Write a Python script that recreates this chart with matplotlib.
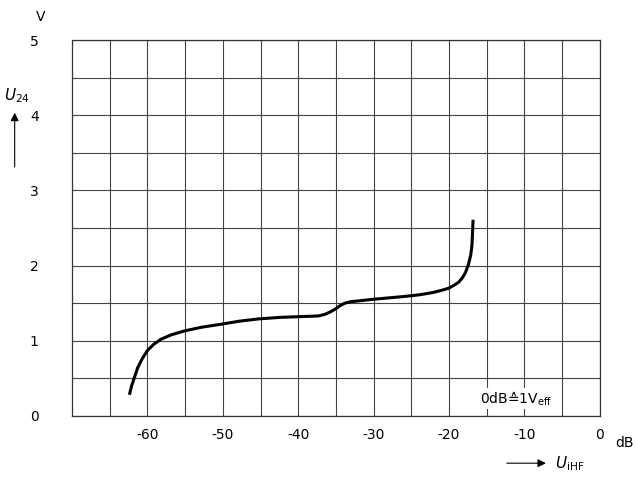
import matplotlib
matplotlib.use("Agg")
import matplotlib.pyplot as plt
import numpy as np

# curve: U_iHF in dB, U_24 in V
u_ihf = [-62.4, -62.1, -61.7, -61.3, -60.7, -60.0, -59.2, -58.2, -56.8, -55.1,
         -52.8, -50.2, -47.8, -45.3, -42.5, -40.0, -38.5, -37.3, -36.5, -35.8,
         -35.1, -34.4, -33.8, -33.0, -32.0, -30.2, -28.0, -25.8, -24.0, -22.2,
         -21.0, -20.0, -19.3, -18.7, -18.2, -17.8, -17.4, -17.1, -16.95, -16.9,
         -16.85, -16.8]
u_24 = [0.28, 0.40, 0.52, 0.64, 0.76, 0.87, 0.95, 1.02, 1.08, 1.13,
        1.18, 1.22, 1.26, 1.29, 1.31, 1.32, 1.325, 1.33, 1.35, 1.38,
        1.42, 1.47, 1.50, 1.52, 1.53, 1.55, 1.57, 1.59, 1.61, 1.64,
        1.67, 1.70, 1.74, 1.78, 1.84, 1.91, 2.02, 2.15, 2.27, 2.38,
        2.50, 2.61]

xticks = [-60, -50, -40, -30, -20, -10, 0]
yticks = [0, 1, 2, 3, 4, 5]

fig = plt.figure(figsize=(6.38, 4.78), dpi=100)
ax = fig.add_axes([0.113, 0.13, 0.827, 0.786])

ax.plot(u_ihf, u_24, color='black', lw=2.2, solid_capstyle='butt',
        solid_joinstyle='round')

ax.set_xlim(-70, 0)
ax.set_ylim(0, 5)
ax.set_xticks(xticks)
ax.set_yticks(yticks)
ax.set_xticklabels(['-60', '-50', '-40', '-30', '-20', '-10', '0'])
ax.set_xticks(np.arange(-65, 0, 5), minor=True)
ax.set_yticks(np.arange(0.5, 5, 0.5), minor=True)
ax.grid(True, which='both', color='#444444', lw=0.8)
ax.tick_params(which='both', length=0, labelsize=10)
ax.tick_params(axis='x', pad=9)
ax.tick_params(axis='y', pad=24)
for s in ax.spines.values():
    s.set_linewidth(0.9)
    s.set_color('#333333')

ax.text(-6.3, 0.23, '0dB\u22591V$_{\\rm eff}$', ha='right', va='center',
        fontsize=10, bbox=dict(facecolor='white', edgecolor='none', pad=1))

fig.text(0.063, 0.965, 'V', ha='center', va='center', fontsize=10)
fig.text(0.993, 0.073, 'dB', ha='right', va='center', fontsize=10)

# axis names with arrows
fig.text(0.027, 0.80, r'$U_{24}$', ha='center', va='center', fontsize=11)
ax.annotate('', xy=(0.023, 0.77), xytext=(0.023, 0.645), xycoords='figure fraction',
            arrowprops=dict(arrowstyle='-|>', color='black', lw=0.8, mutation_scale=12))
ax.annotate('', xy=(0.86, 0.031), xytext=(0.79, 0.031), xycoords='figure fraction',
            arrowprops=dict(arrowstyle='-|>', color='black', lw=0.8, mutation_scale=12))
fig.text(0.87, 0.031, r'$U_{\rm iHF}$', ha='left', va='center', fontsize=11)

fig.savefig('out.png', dpi=100)
